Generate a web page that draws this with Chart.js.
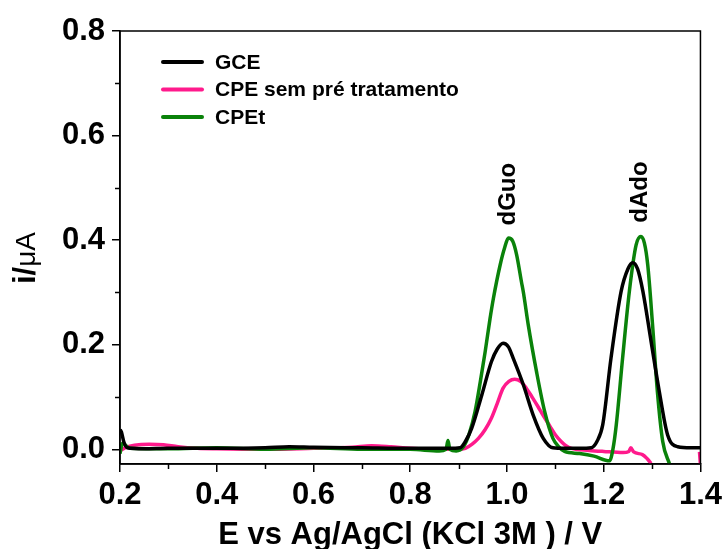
<!DOCTYPE html>
<html>
<head>
<meta charset="utf-8">
<script src="https://cdn.jsdelivr.net/npm/chart.js@4.4.0/dist/chart.umd.min.js"></script>
<style>
  html, body { margin: 0; padding: 0; background: #fff; }
  #wrap { width: 727px; height: 549px; }
</style>
</head>
<body>
<div id="wrap"><canvas id="grafico" width="727" height="549"></canvas></div>
<script>
var gceE = [0.200, 0.203, 0.208, 0.215, 0.25, 0.30, 0.40, 0.50, 0.55, 0.60, 0.70, 0.80, 0.88, 0.903, 0.914, 0.927, 0.948, 0.968, 0.980, 0.992, 1.003, 1.013, 1.034, 1.054, 1.075, 1.095, 1.12, 1.15, 1.174, 1.186, 1.198, 1.215, 1.236, 1.250, 1.260, 1.270, 1.281, 1.298, 1.315, 1.332, 1.353, 1.38, 1.40];
var gceI = [0.038, 0.033, 0.014, 0.003, 0.001, 0.002, 0.002, 0.003, 0.005, 0.004, 0.003, 0.002, 0.002, 0.003, 0.015, 0.040, 0.104, 0.168, 0.192, 0.203, 0.196, 0.174, 0.123, 0.066, 0.021, 0.003, 0.002, 0.002, 0.003, 0.015, 0.047, 0.174, 0.302, 0.345, 0.357, 0.345, 0.302, 0.206, 0.110, 0.028, 0.005, 0.003, 0.003];

var cpeE = [0.200, 0.210, 0.230, 0.260, 0.290, 0.320, 0.360, 0.40, 0.50, 0.60, 0.68, 0.72, 0.76, 0.80, 0.86, 0.90, 0.914, 0.928, 0.941, 0.955, 0.968, 0.980, 0.992, 1.004, 1.016, 1.028, 1.040, 1.052, 1.064, 1.076, 1.089, 1.100, 1.112, 1.122, 1.133, 1.17, 1.20, 1.24, 1.252, 1.256, 1.262, 1.28, 1.29, 1.298, 1.30, 1.396, 1.398, 1.40];
var cpeI = [-0.003, 0.003, 0.008, 0.010, 0.009, 0.005, 0.002, 0.001, 0.000, 0.002, 0.004, 0.007, 0.005, 0.002, 0.000, 0.000, 0.002, 0.010, 0.021, 0.038, 0.060, 0.088, 0.117, 0.130, 0.134, 0.130, 0.117, 0.100, 0.082, 0.063, 0.044, 0.028, 0.015, 0.007, 0.002, -0.002, -0.004, -0.006, -0.004, 0.003, -0.005, -0.010, -0.018, -0.027, null, null, -0.005, -0.030];

var cpetE = [0.200, 0.205, 0.220, 0.30, 0.40, 0.50, 0.60, 0.70, 0.80, 0.86, 0.874, 0.878, 0.882, 0.895, 0.910, 0.922, 0.934, 0.945, 0.955, 0.965, 0.972, 0.986, 0.995, 1.003, 1.012, 1.020, 1.030, 1.034, 1.044, 1.061, 1.078, 1.095, 1.108, 1.119, 1.15, 1.18, 1.212, 1.219, 1.226, 1.239, 1.253, 1.267, 1.277, 1.284, 1.291, 1.301, 1.311, 1.322, 1.336];
var cpetI = [-0.008, 0.012, 0.002, 0.001, 0.003, 0.000, 0.003, 0.000, 0.000, -0.003, 0.000, 0.017, 0.000, -0.003, 0.005, 0.030, 0.072, 0.130, 0.187, 0.250, 0.289, 0.353, 0.385, 0.404, 0.398, 0.372, 0.320, 0.300, 0.238, 0.149, 0.072, 0.021, 0.004, -0.004, -0.008, -0.013, -0.022, 0.000, 0.047, 0.174, 0.302, 0.391, 0.407, 0.395, 0.353, 0.238, 0.110, 0.015, -0.028];

var legendas = ['GCE', 'CPE sem pré tratamento', 'CPEt'];
var cores = ['#000000', '#ff1a8c', '#0a820a'];
var picos = ['dGuo', 'dAdo'];
var picosE = [1.000, 1.274];
var picosI = [0.488, 0.492];
var ticksX = [0.2, 0.4, 0.6, 0.8, 1.0, 1.2, 1.4];
var ticksY = [0.0, 0.2, 0.4, 0.6, 0.8];

function pontos(xs, ys) {
    return xs.map((x, i) => ({ x: x, y: ys[i] }));
}

var fonte = "'Liberation Sans', Arial, sans-serif";

// Moldura, ticks menores, legenda e rótulos dos picos
var extras = {
    id: 'extras',
    afterDraw(chart) {
        var ctx = chart.ctx;
        var a = chart.chartArea;
        var sx = chart.scales.x, sy = chart.scales.y;
        ctx.save();
        ctx.strokeStyle = '#000';
        ctx.lineWidth = 1.5;
        ctx.strokeRect(a.left, a.top, a.right - a.left, a.bottom - a.top);

        // ticks menores
        for (var v = 0.3; v < 1.4; v += 0.2) {
            var px = Math.round(sx.getPixelForValue(v)) + 0.5;
            ctx.beginPath(); ctx.moveTo(px, a.bottom); ctx.lineTo(px, a.bottom + 5); ctx.stroke();
        }
        for (var w = 0.1; w < 0.8; w += 0.2) {
            var py = Math.round(sy.getPixelForValue(w)) + 0.5;
            ctx.beginPath(); ctx.moveTo(a.left, py); ctx.lineTo(a.left - 5, py); ctx.stroke();
        }

        // legenda
        ctx.font = 'bold 21px ' + fonte;
        ctx.textBaseline = 'middle';
        ctx.textAlign = 'left';
        chart.data.datasets.forEach((ds, i) => {
            var y = 62 + i * 27.5;
            ctx.strokeStyle = ds.borderColor;
            ctx.lineWidth = 4;
            ctx.lineCap = 'round';
            ctx.beginPath(); ctx.moveTo(163, y); ctx.lineTo(202, y); ctx.stroke();
            ctx.fillStyle = '#000';
            ctx.fillText(ds.label, 215, y + 1);
        });

        // rótulos dos picos (texto vertical)
        ctx.font = 'bold 24px ' + fonte;
        ctx.textAlign = 'center';
        picos.forEach((t, i) => {
            ctx.save();
            ctx.translate(sx.getPixelForValue(picosE[i]), sy.getPixelForValue(picosI[i]));
            ctx.rotate(-Math.PI / 2);
            ctx.fillText(t, 0, 1);
            ctx.restore();
        });

        // título do eixo y: i/µA
        ctx.save();
        ctx.translate(26, 258);
        ctx.rotate(-Math.PI / 2);
        ctx.textAlign = 'left';
        ctx.font = 'bold 31px ' + fonte;
        var w1 = ctx.measureText('i/').width;
        ctx.font = '28px ' + fonte;
        var w2 = ctx.measureText('\u03bcA').width;
        var x0 = -(w1 + w2) / 2;
        ctx.font = 'bold 31px ' + fonte;
        ctx.fillText('i/', x0, 0);
        ctx.font = '28px ' + fonte;
        ctx.fillText('\u03bcA', x0 + w1, 1);
        ctx.restore();

        ctx.restore();
    }
};

var ctx = document.getElementById('grafico').getContext('2d');
var grafico = new Chart(ctx, {
    type: 'line',
    data: {
        datasets: [
            { label: legendas[0], data: pontos(gceE, gceI), borderColor: cores[0], order: 1 },
            { label: legendas[1], data: pontos(cpeE, cpeI), borderColor: cores[1], order: 3 },
            { label: legendas[2], data: pontos(cpetE, cpetI), borderColor: cores[2], order: 2 }
        ]
    },
    options: {
        responsive: false,
        animation: false,
        layout: { padding: { left: 0, top: 31, right: 24, bottom: 0 } },
        elements: {
            point: { radius: 0 },
            line: { borderWidth: 3.5, tension: 0.35, fill: false, cubicInterpolationMode: 'monotone' }
        },
        spanGaps: false,
        plugins: { legend: { display: false }, tooltip: { enabled: false } },
        scales: {
            x: {
                type: 'linear',
                min: 0.2, max: 1.4,
                afterBuildTicks: s => { s.ticks = ticksX.map(v => ({ value: v })); },
                afterFit: s => { s.height = 85; },
                border: { display: true, color: '#000', width: 1.5 },
                grid: { drawOnChartArea: false, color: '#000', lineWidth: 1.5, tickLength: 8 },
                ticks: {
                    color: '#000', padding: 5,
                    font: { family: fonte, size: 31, weight: 'bold' },
                    callback: v => v.toFixed(1)
                },
                title: {
                    display: true, text: 'E vs Ag/AgCl (KCl 3M ) / V', color: '#000',
                    font: { family: fonte, size: 31, weight: 'bold' },
                    padding: { top: 0, bottom: -5 }
                }
            },
            y: {
                type: 'linear',
                min: -0.028, max: 0.8,
                afterBuildTicks: s => { s.ticks = ticksY.map(v => ({ value: v })); },
                afterFit: s => { s.width = 120; },
                border: { display: true, color: '#000', width: 1.5 },
                grid: { drawOnChartArea: false, color: '#000', lineWidth: 1.5, tickLength: 8 },
                ticks: {
                    color: '#000', padding: 7,
                    font: { family: fonte, size: 31, weight: 'bold' },
                    callback: v => v.toFixed(1)
                }
            }
        }
    },
    plugins: [extras]
});
</script>
</body>
</html>
